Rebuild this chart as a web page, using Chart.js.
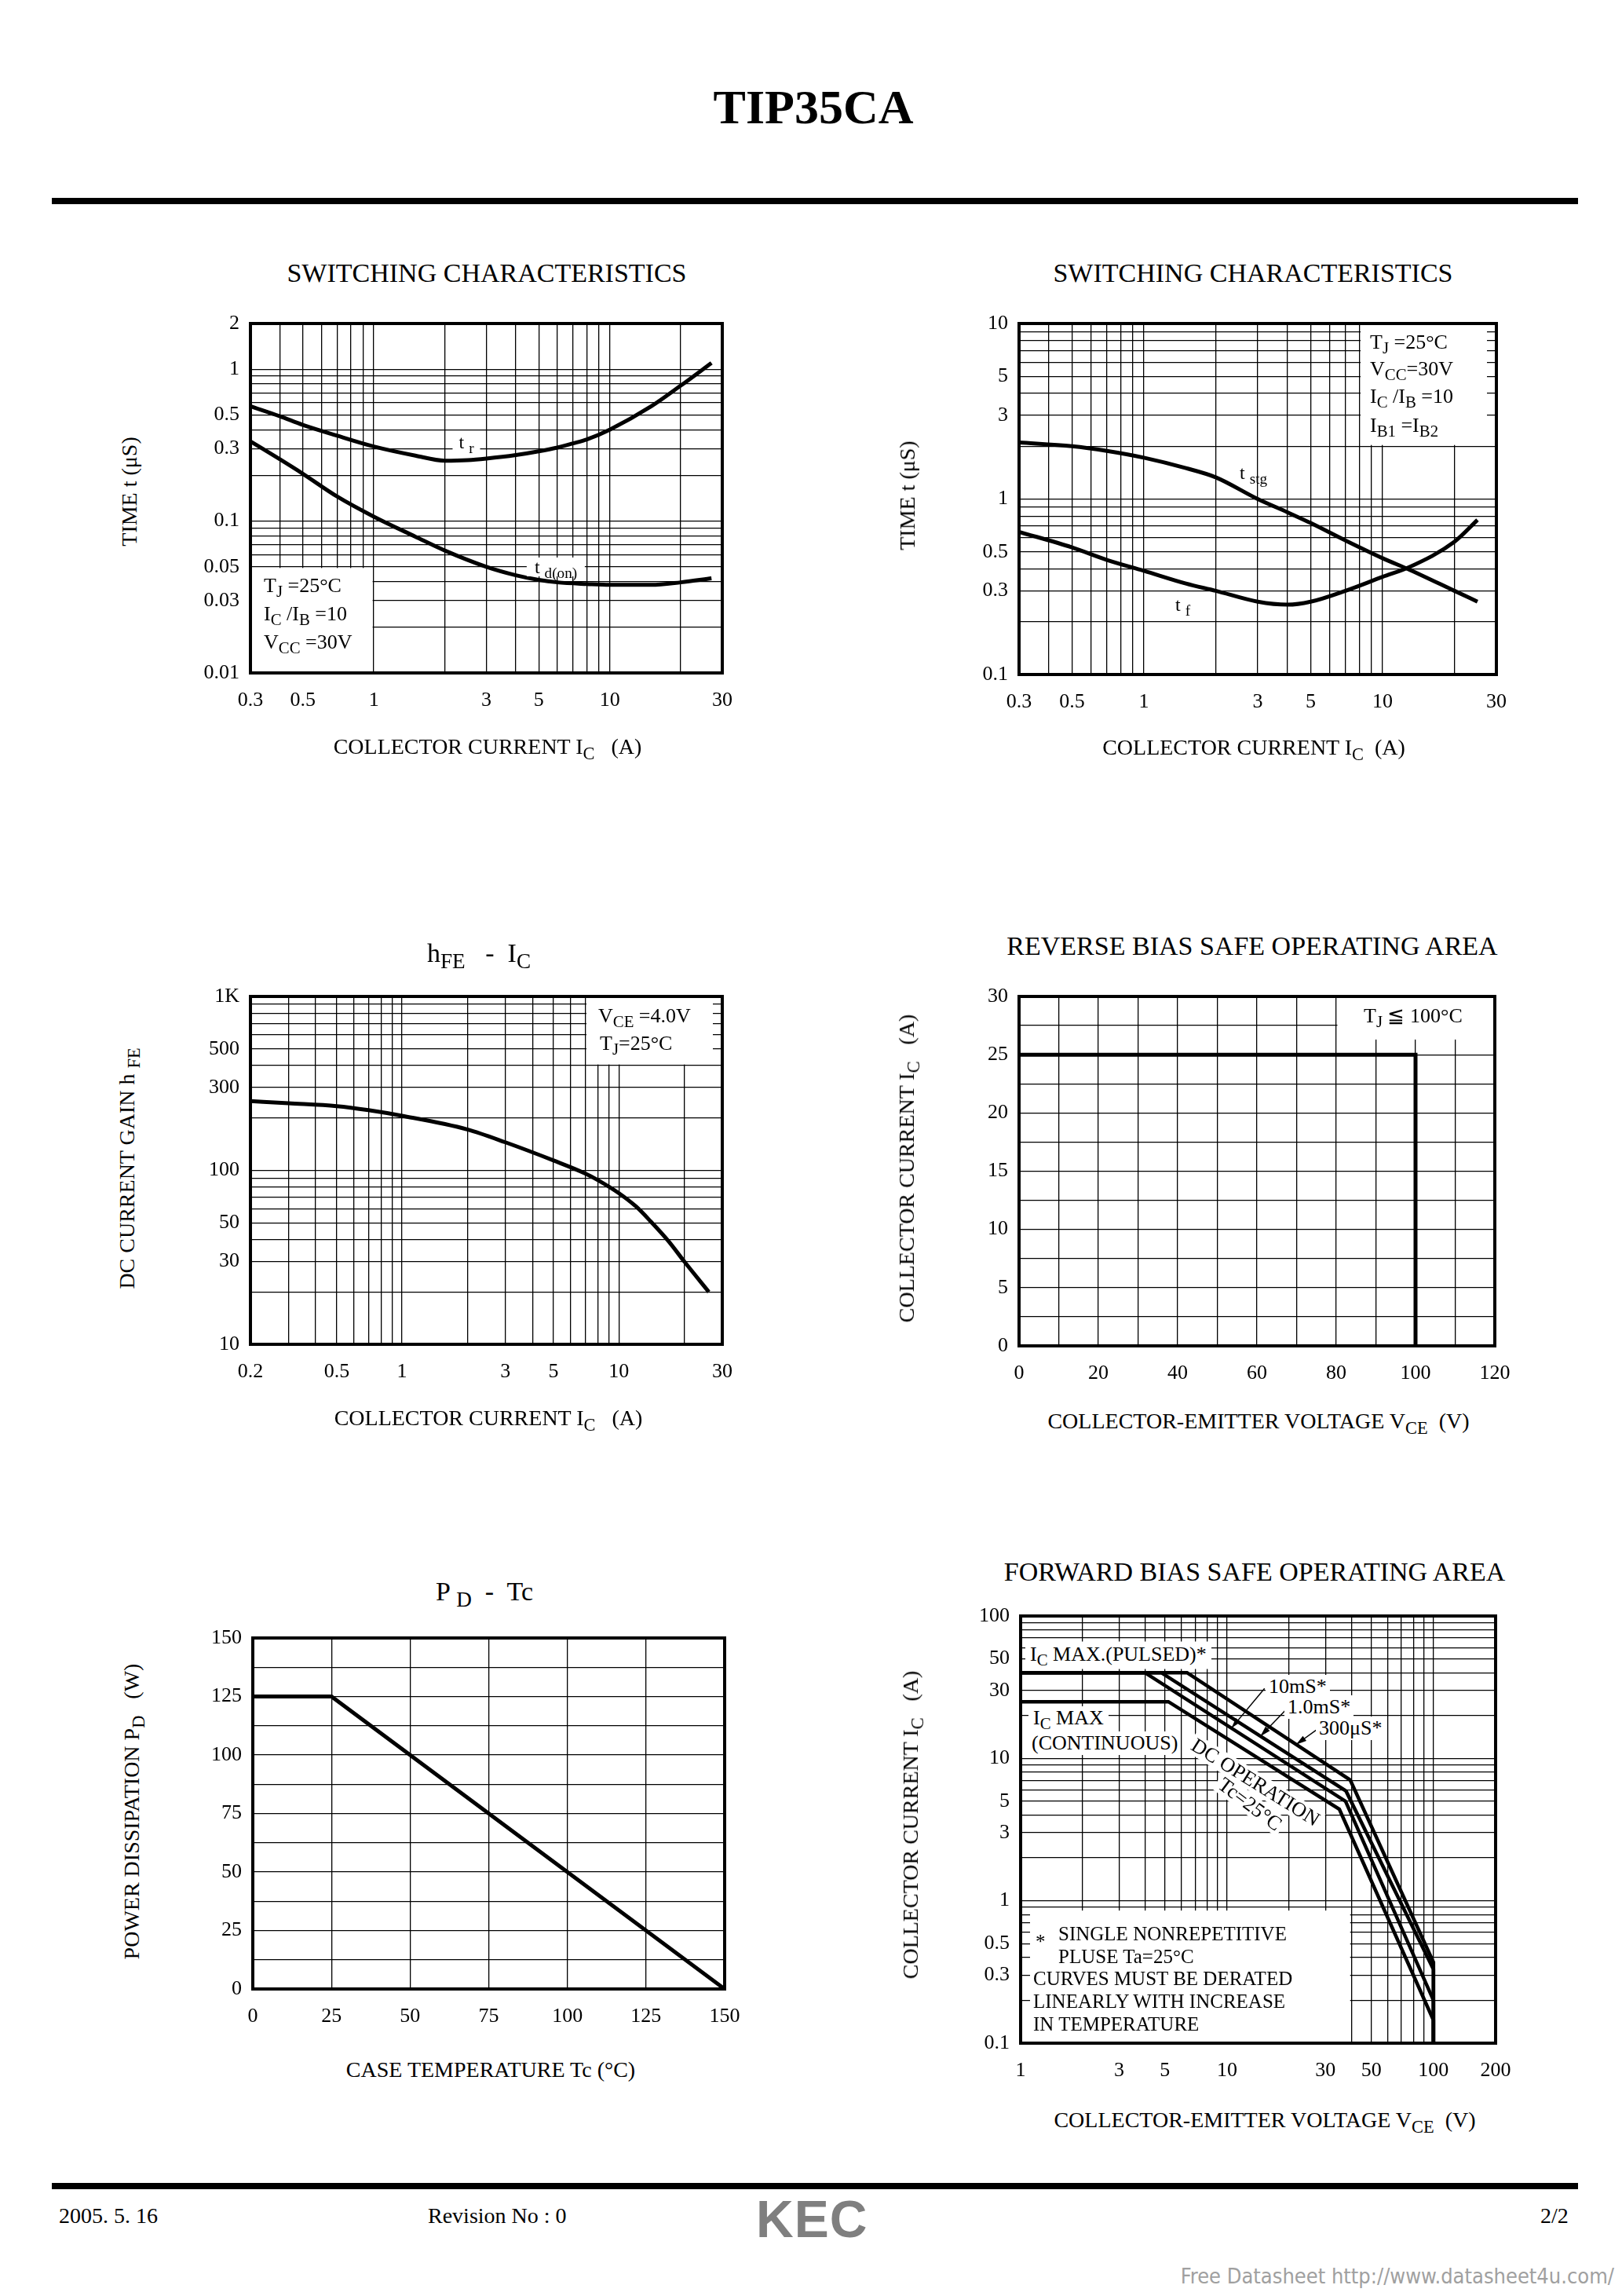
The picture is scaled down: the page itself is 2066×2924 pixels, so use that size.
<!DOCTYPE html>
<html><head><meta charset="utf-8">
<script src="https://cdn.jsdelivr.net/npm/chart.js@4.4.1/dist/chart.umd.min.js"></script>
<style>
html,body{margin:0;padding:0;background:#fff;}
#page{position:relative;width:2066px;height:2924px;overflow:hidden;font-family:"Liberation Serif","Times New Roman",serif;color:#000;background:#fff;}
.abs{position:absolute;white-space:nowrap;line-height:1;}
sub{font-size:0.8em;vertical-align:-0.3em;line-height:0;}
.bar{position:absolute;background:#000;}
</style></head><body><div id="page"></div>
<script>
// ================= DATA =================
// Switching characteristics (tr, td(on))
const sw1CurrentTicks = [0.3, 0.5, 1, 3, 5, 10, 30];
const sw1TimeTicks    = [0.01, 0.03, 0.05, 0.1, 0.3, 0.5, 1, 2];
const trCurrent   = [0.3, 0.4, 0.5, 0.7, 1, 1.5, 2, 2.5, 3, 4, 5, 6, 7, 8, 10, 15, 20, 27];
const trTime      = [0.57, 0.49, 0.43, 0.365, 0.31, 0.27, 0.25, 0.252, 0.258, 0.272, 0.288, 0.305, 0.325, 0.345, 0.4, 0.57, 0.78, 1.1];
const tdonCurrent = [0.3, 0.4, 0.5, 0.7, 1, 1.5, 2, 3, 4, 5, 6, 8, 10, 15, 20, 27];
const tdonTime    = [0.335, 0.255, 0.205, 0.145, 0.107, 0.079, 0.064, 0.05, 0.044, 0.041, 0.0395, 0.0385, 0.038, 0.038, 0.0395, 0.042];

// Switching characteristics (tstg, tf)
const sw2CurrentTicks = [0.3, 0.5, 1, 3, 5, 10, 30];
const sw2TimeTicks    = [0.1, 0.3, 0.5, 1, 3, 5, 10];
const tsCurrent = [0.3, 0.5, 0.7, 1, 1.5, 2, 3, 4, 5, 7, 10, 13, 20, 25];
const tstgTime  = [2.1, 2.0, 1.88, 1.72, 1.5, 1.33, 1.0, 0.84, 0.73, 0.58, 0.46, 0.395, 0.3, 0.26];
const tfTime    = [0.65, 0.53, 0.45, 0.39, 0.33, 0.3, 0.26, 0.25, 0.26, 0.3, 0.36, 0.41, 0.57, 0.76];

// hFE - IC
const hfeCurrentTicks = [0.2, 0.5, 1, 3, 5, 10, 30];
const hfeGainTicks    = [10, 30, 50, 100, 300, 500, 1000];
const hfeGainTickText = ['10', '30', '50', '100', '300', '500', '1K'];
const hfeCurrent = [0.2, 0.3, 0.5, 0.7, 1, 2, 3, 5, 7, 8, 10, 12, 14, 17, 20, 26];
const hfeGain    = [250, 243, 234, 222, 206, 172, 145, 114, 96, 88, 74, 62, 51, 39, 30, 20];

// Reverse bias SOA
const rbsoaVoltTicks    = [0, 20, 40, 60, 80, 100, 120];
const rbsoaCurrentTicks = [0, 5, 10, 15, 20, 25, 30];
const rbsoaVolt    = [0, 100, 100];
const rbsoaCurrent = [25, 25, 0];

// PD - Tc
const pdTempTicks  = [0, 25, 50, 75, 100, 125, 150];
const pdPowerTicks = [0, 25, 50, 75, 100, 125, 150];
const pdTemp  = [0, 25, 150];
const pdPower = [125, 125, 0];

// Forward bias SOA
const fbsoaVoltTicks    = [1, 3, 5, 10, 30, 50, 100, 200];
const fbsoaCurrentTicks = [0.1, 0.3, 0.5, 1, 3, 5, 10, 30, 50, 100];
const dcVolt       = [1, 5.2, 35, 100, 100];
const dcCurrent    = [25, 25, 4.4, 0.145, 0.1];
const p10msVolt    = [1, 4, 37.5, 100, 100];
const p10msCurrent = [40, 40, 5.0, 0.2, 0.1];
const p1msVolt     = [1, 4.8, 37.7, 100, 100];
const p1msCurrent  = [40, 40, 5.9, 0.33, 0.1];
const p300usVolt    = [1, 6.4, 39.5, 100, 100];
const p300usCurrent = [40, 40, 7.05, 0.37, 0.1];
// leader lines (label -> curve) for pulse labels
const leader10ms  = [[15.2, 31], [10.5, 16.3]];
const leader1ms   = [[19.6, 22.5], [14.5, 14.3]];
const leader300us = [[27.0, 15.8], [21.6, 12.5]];

// ================= HELPERS =================
const page = document.getElementById('page');
const PADL = 130, PADT = 30, PADR = 40, PADB = 80;

function logGrid(min, max) {
  const out = [];
  for (let e = Math.floor(Math.log10(min)); e <= Math.ceil(Math.log10(max)); e++) {
    for (let m = 1; m <= 9; m++) {
      const v = parseFloat((m * Math.pow(10, e)).toPrecision(6));
      if (v >= min * 0.999999 && v <= max * 1.000001) out.push(v);
    }
  }
  return out;
}
function linGrid(min, max, step) {
  const out = [];
  for (let v = min; v <= max + 1e-9; v += step) out.push(parseFloat(v.toPrecision(8)));
  return out;
}
function pts(xs, ys) { return xs.map((x, i) => ({ x: x, y: ys[i] })); }

function axisCfg(which, a) {
  return {
    type: a.type, min: a.min, max: a.max, position: which === 'x' ? 'bottom' : 'left',
    afterBuildTicks: s => { s.ticks = a.grid.map(v => ({ value: v })); },
    afterFit: s => { if (which === 'x') s.height = PADB; else s.width = PADL; },
    ticks: {
      autoSkip: false, maxRotation: 0, minRotation: 0,
      padding: which === 'x' ? 20 : 14, color: '#000',
      font: { family: 'Liberation Serif', size: 26 },
      callback: v => {
        const i = a.ticks.findIndex(t => Math.abs(t - v) <= 1e-9 * Math.abs(t) + 1e-12);
        return i < 0 ? '' : (a.text ? a.text[i] : String(a.ticks[i]));
      }
    },
    grid: { color: '#000', lineWidth: 1.3, drawTicks: false },
    border: { display: false }
  };
}

function makeFrame(ann) {
  ann = ann || {};
  return {
    id: 'frame',
    beforeDatasetsDraw(chart) {
      const ctx = chart.ctx, x = chart.scales.x, y = chart.scales.y;
      ctx.save();
      ctx.fillStyle = '#fff';
      (ann.boxes || []).forEach(b => {
        const ins = b.inset || [1.5, 1.5, 1.5, 1.5];
        const x0 = x.getPixelForValue(b.x[0]) + ins[0];
        const x1 = x.getPixelForValue(b.x[1]) - ins[1];
        const y0 = y.getPixelForValue(b.y[1]) + ins[2];
        const y1 = y.getPixelForValue(b.y[0]) - ins[3];
        ctx.fillRect(x0, y0, x1 - x0, y1 - y0);
      });
      ctx.restore();
    },
    afterDatasetsDraw(chart) {
      const ctx = chart.ctx, a = chart.chartArea, x = chart.scales.x, y = chart.scales.y;
      ctx.save();
      (ann.leaders || []).forEach(l => {
        const x0 = x.getPixelForValue(l[0][0]), y0 = y.getPixelForValue(l[0][1]);
        const x1 = x.getPixelForValue(l[1][0]), y1 = y.getPixelForValue(l[1][1]);
        ctx.strokeStyle = '#000'; ctx.lineWidth = 1.5;
        ctx.beginPath(); ctx.moveTo(x0, y0); ctx.lineTo(x1, y1); ctx.stroke();
        const ang = Math.atan2(y1 - y0, x1 - x0), L = 14, w = 0.28;
        ctx.beginPath(); ctx.moveTo(x1, y1);
        ctx.lineTo(x1 - L * Math.cos(ang - w), y1 - L * Math.sin(ang - w));
        ctx.lineTo(x1 - L * Math.cos(ang + w), y1 - L * Math.sin(ang + w));
        ctx.closePath(); ctx.fillStyle = '#000'; ctx.fill();
      });
      ctx.strokeStyle = '#000'; ctx.lineWidth = 4;
      ctx.strokeRect(a.left, a.top, a.right - a.left, a.bottom - a.top);
      ctx.restore();
    }
  };
}

function makeChart(plot, xAxis, yAxis, datasets, ann) {
  const W = plot.w + PADL + PADR, H = plot.h + PADT + PADB;
  const left = plot.l - PADL, top = plot.t - PADT;
  const cv = document.createElement('canvas');
  cv.width = W; cv.height = H;
  cv.style.cssText = 'position:absolute;left:' + left + 'px;top:' + top + 'px;width:' + W + 'px;height:' + H + 'px';
  page.appendChild(cv);
  const chart = new Chart(cv, {
    type: 'line',
    data: { datasets: datasets },
    options: {
      responsive: false, animation: false, maintainAspectRatio: false,
      layout: { padding: { left: 0, top: PADT, right: PADR, bottom: 0 } },
      plugins: { legend: { display: false }, tooltip: { enabled: false }, title: { display: false } },
      scales: { x: axisCfg('x', xAxis), y: axisCfg('y', yAxis) },
      elements: { point: { radius: 0 } }
    },
    plugins: [makeFrame(ann)]
  });
  chart._off = { left: left, top: top };
  return chart;
}

function curve(label, xs, ys, smooth, width) {
  return {
    label: label, data: pts(xs, ys), borderColor: '#000', backgroundColor: '#000',
    borderWidth: width || 5, pointRadius: 0, fill: false,
    tension: smooth ? 0.4 : 0, cubicInterpolationMode: smooth ? 'monotone' : 'default',
    borderCapStyle: 'butt', borderJoinStyle: 'miter'
  };
}

function addText(html, x, y, o) {
  o = o || {};
  const d = document.createElement('div');
  d.className = 'abs';
  d.innerHTML = html;
  d.style.left = x + 'px'; d.style.top = y + 'px';
  d.style.fontSize = (o.size || 26) + 'px';
  if (o.bold) d.style.fontWeight = 'bold';
  if (o.family) d.style.fontFamily = o.family;
  if (o.color) d.style.color = o.color;
  if (o.bg) { d.style.background = '#fff'; d.style.padding = o.pad || '2px 6px'; }
  const ax = o.align === 'left' ? '0' : (o.align === 'right' ? '-100%' : '-50%');
  d.style.transform = 'translate(' + ax + ',-50%)' + (o.rot ? ' rotate(' + o.rot + 'deg)' : '');
  if (o.extra) d.style.cssText += o.extra;
  page.appendChild(d);
  return d;
}
function bar(l, t, w, h) {
  const d = document.createElement('div');
  d.className = 'bar';
  d.style.cssText += 'left:' + l + 'px;top:' + t + 'px;width:' + w + 'px;height:' + h + 'px';
  page.appendChild(d);
}

// ================= PAGE HEADER =================
addText('TIP35CA', 1036, 136, { size: 62, bold: true });
bar(66, 252, 1944, 8);

// ================= CHART 1 =================
const c1 = makeChart({ l: 319, t: 412, w: 601, h: 445 },
  { type: 'logarithmic', min: 0.3, max: 30, grid: logGrid(0.3, 30), ticks: sw1CurrentTicks },
  { type: 'logarithmic', min: 0.01, max: 2, grid: logGrid(0.01, 2), ticks: sw1TimeTicks },
  [curve('t r', trCurrent, trTime, true), curve('t d(on)', tdonCurrent, tdonTime, true)],
  { boxes: [{ x: [0.3, 1], y: [0.01, 0.05] }] });
addText('SWITCHING CHARACTERISTICS', 620, 348, { size: 34 });
addText('TIME t (μS)', 165, 626, { size: 28, rot: -90 });
addText('COLLECTOR CURRENT I<sub>C</sub>&nbsp;&nbsp; (A)', 621, 951, { size: 28 });
addText('T<sub>J</sub> =25°C', 336, 746, { size: 26, align: 'left' });
addText('I<sub>C</sub> /I<sub>B</sub> =10', 336, 782, { size: 26, align: 'left' });
addText('V<sub>CC</sub> =30V', 336, 818, { size: 26, align: 'left' });
addText('t <sub>r</sub>', 594, 563, { size: 24, bg: true, pad: '0 8px' });
addText('t <sub>d(on)</sub>', 708, 722, { size: 24, bg: true, pad: '0 10px' });

// ================= CHART 2 =================
const c2 = makeChart({ l: 1298, t: 412, w: 608, h: 447 },
  { type: 'logarithmic', min: 0.3, max: 30, grid: logGrid(0.3, 30), ticks: sw2CurrentTicks },
  { type: 'logarithmic', min: 0.1, max: 10, grid: logGrid(0.1, 10), ticks: sw2TimeTicks },
  [curve('t stg', tsCurrent, tstgTime, true), curve('t f', tsCurrent, tfTime, true)],
  { boxes: [{ x: [8, 30], y: [2, 10], inset: [1.5, 12, 1.5, 1.5] }] });
addText('SWITCHING CHARACTERISTICS', 1596, 348, { size: 34 });
addText('TIME t (μS)', 1156, 631, { size: 28, rot: -90 });
addText('COLLECTOR CURRENT I<sub>C</sub>&nbsp; (A)', 1597, 952, { size: 28 });
addText('T<sub>J</sub> =25°C', 1745, 436, { size: 26, align: 'left' });
addText('V<sub>CC</sub>=30V', 1745, 470, { size: 26, align: 'left' });
addText('I<sub>C</sub> /I<sub>B</sub> =10', 1745, 505, { size: 26, align: 'left' });
addText('I<sub>B1</sub> =I<sub>B2</sub>', 1745, 542, { size: 26, align: 'left' });
addText('t <sub>stg</sub>', 1579, 602, { size: 24, align: 'left' });
addText('t <sub>f</sub>', 1497, 770, { size: 24, align: 'left' });

// ================= CHART 3 =================
const c3 = makeChart({ l: 319, t: 1269, w: 601, h: 443 },
  { type: 'logarithmic', min: 0.2, max: 30, grid: logGrid(0.2, 30), ticks: hfeCurrentTicks },
  { type: 'logarithmic', min: 10, max: 1000, grid: logGrid(10, 1000), ticks: hfeGainTicks, text: hfeGainTickText },
  [curve('hFE', hfeCurrent, hfeGain, true)],
  { boxes: [{ x: [7, 30], y: [400, 1000], inset: [1.5, 12, 1.5, 1.5] }] });
addText('h<sub>FE</sub>&nbsp;&nbsp; -&nbsp; I<sub>C</sub>', 610, 1214, { size: 34 });
addText('DC CURRENT GAIN h <sub>FE</sub>', 162, 1488, { size: 28, rot: -90 });
addText('COLLECTOR CURRENT I<sub>C</sub>&nbsp;&nbsp; (A)', 622, 1806, { size: 28 });
addText('V<sub>CE</sub> =4.0V', 762, 1294, { size: 26, align: 'left' });
addText('T<sub>J</sub>=25°C', 764, 1329, { size: 26, align: 'left' });

// ================= CHART 4 =================
const c4 = makeChart({ l: 1298, t: 1269, w: 606, h: 445 },
  { type: 'linear', min: 0, max: 120, grid: linGrid(0, 120, 10), ticks: rbsoaVoltTicks },
  { type: 'linear', min: 0, max: 30, grid: linGrid(0, 30, 2.5), ticks: rbsoaCurrentTicks },
  [curve('RBSOA', rbsoaVolt, rbsoaCurrent, false)],
  { boxes: [{ x: [80, 120], y: [26.3, 30], inset: [1.5, 1.5, 1.5, 0] }] });
addText('REVERSE BIAS SAFE OPERATING AREA', 1595, 1205, { size: 34 });
addText('COLLECTOR CURRENT I<sub>C</sub>&nbsp;&nbsp; (A)', 1155, 1488, { size: 28, rot: -90 });
addText('COLLECTOR-EMITTER VOLTAGE V<sub>CE</sub>&nbsp; (V)', 1603, 1810, { size: 28 });
addText('T<sub>J</sub> ≦ 100°C', 1737, 1294, { size: 26, align: 'left' });

// ================= CHART 5 =================
const c5 = makeChart({ l: 322, t: 2086, w: 601, h: 447 },
  { type: 'linear', min: 0, max: 150, grid: linGrid(0, 150, 25), ticks: pdTempTicks },
  { type: 'linear', min: 0, max: 150, grid: linGrid(0, 150, 12.5), ticks: pdPowerTicks },
  [curve('PD', pdTemp, pdPower, false)], {});
addText('P <sub>D</sub>&nbsp; -&nbsp; Tc', 617, 2027, { size: 34 });
addText('POWER DISSIPATION P<sub>D</sub>&nbsp;&nbsp; (W)', 168, 2307, { size: 28, rot: -90 });
addText('CASE TEMPERATURE Tc (°C)', 625, 2636, { size: 28 });

// ================= CHART 6 =================
const c6 = makeChart({ l: 1300, t: 2058, w: 605, h: 544 },
  { type: 'logarithmic', min: 1, max: 200, grid: logGrid(1, 200), ticks: fbsoaVoltTicks },
  { type: 'logarithmic', min: 0.1, max: 100, grid: logGrid(0.1, 100), ticks: fbsoaCurrentTicks },
  [curve('DC', dcVolt, dcCurrent, false, 4.5), curve('10ms', p10msVolt, p10msCurrent, false, 4.5),
   curve('1ms', p1msVolt, p1msCurrent, false, 4.5), curve('300us', p300usVolt, p300usCurrent, false, 4.5)],
  { boxes: [{ x: [1, 40], y: [0.1, 0.87], inset: [12, 1.5, 1.5, 1.5] }],
    leaders: [leader10ms, leader1ms, leader300us] });
addText('FORWARD BIAS SAFE OPERATING AREA', 1598, 2002, { size: 34 });
addText('COLLECTOR CURRENT I<sub>C</sub>&nbsp;&nbsp; (A)', 1160, 2324, { size: 28, rot: -90 });
addText('COLLECTOR-EMITTER VOLTAGE V<sub>CE</sub>&nbsp; (V)', 1611, 2700, { size: 28 });
addText('I<sub>C</sub> MAX.(PULSED)*', 1306, 2108, { size: 26, align: 'left', bg: true, pad: '3px 6px 6px 6px' });
addText('I<sub>C</sub> MAX', 1310, 2190, { size: 26, align: 'left', bg: true, pad: '2px 6px 6px 6px' });
addText('(CONTINUOUS)', 1310, 2220, { size: 26, align: 'left', bg: true, pad: '2px 4px' });
addText('10mS*', 1612, 2148, { size: 26, align: 'left', bg: true, pad: '2px 4px' });
addText('1.0mS*', 1636, 2174, { size: 26, align: 'left', bg: true, pad: '2px 4px' });
addText('300μS*', 1676, 2201, { size: 26, align: 'left', bg: true, pad: '2px 4px' });
addText('DC OPERATION', 1599, 2270, { size: 26, rot: 32, bg: true, pad: '0 4px' });
addText('Tc=25°C', 1592, 2298, { size: 26, rot: 37, bg: true, pad: '0 4px' });
addText('*', 1319, 2472, { size: 25, align: 'left' });
addText('SINGLE NONREPETITIVE', 1348, 2462, { size: 25, align: 'left' });
addText('PLUSE Ta=25°C', 1348, 2491, { size: 25, align: 'left' });
addText('CURVES MUST BE DERATED', 1316, 2519, { size: 25, align: 'left' });
addText('LINEARLY WITH INCREASE', 1316, 2548, { size: 25, align: 'left' });
addText('IN TEMPERATURE', 1316, 2577, { size: 25, align: 'left' });

// ================= FOOTER =================
bar(66, 2780, 1944, 8);
addText('2005. 5. 16', 75, 2822, { size: 28, align: 'left' });
addText('Revision No : 0', 545, 2822, { size: 28, align: 'left' });
addText('KEC', 963, 2826, { size: 66, bold: true, align: 'left', family: '"Liberation Sans", Arial, sans-serif', color: '#7f7f7f', extra: 'letter-spacing:1px;' });
addText('2/2', 1962, 2822, { size: 28, align: 'left' });
addText('Free Datasheet http://www.datasheet4u.com/', 2056, 2898, { size: 27, align: 'right', family: '"Liberation Sans Narrow", "DejaVu Sans Condensed", sans-serif', color: '#a0a0a0' });
</script>
</body></html>
